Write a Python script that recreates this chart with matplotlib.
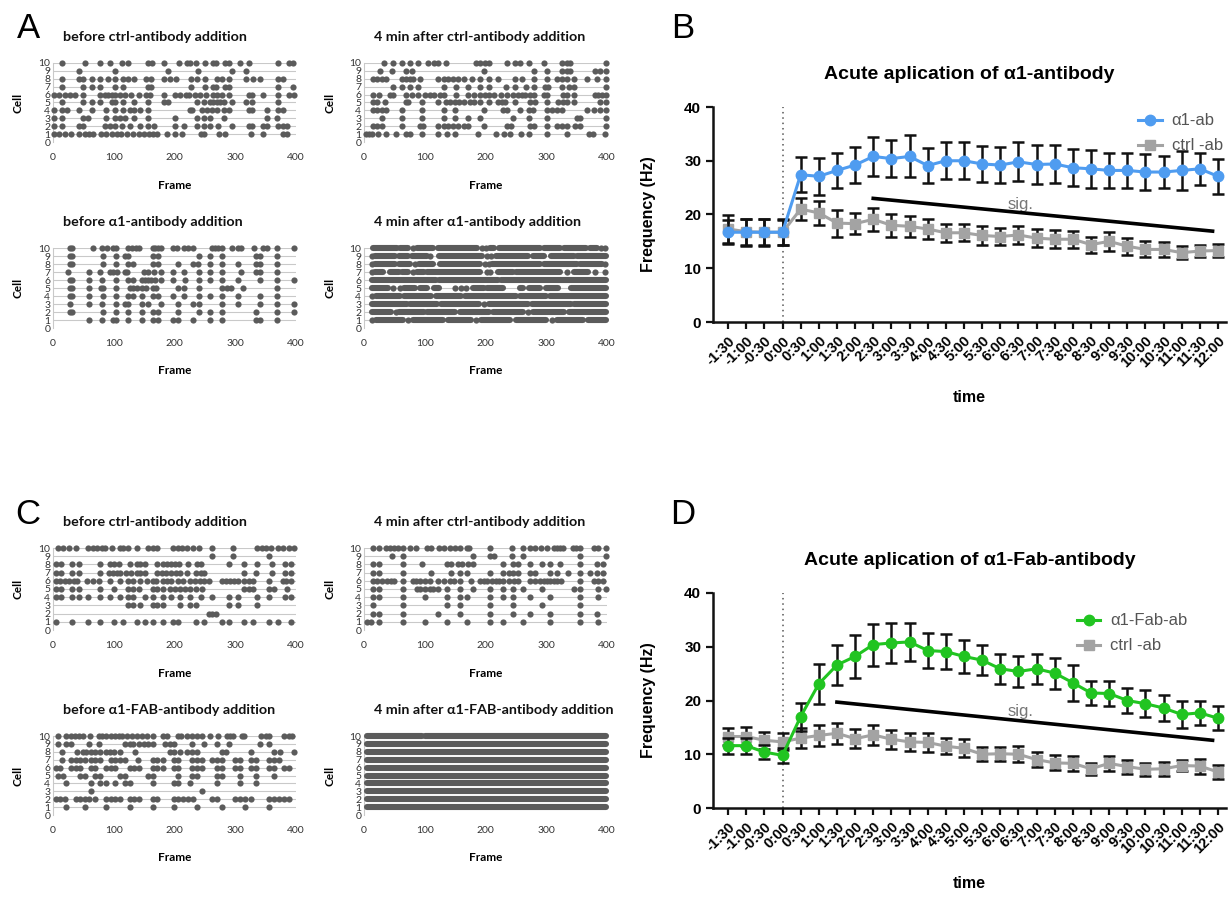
import matplotlib
matplotlib.use("Agg")
import matplotlib.pyplot as plt
from matplotlib.lines import Line2D

# ---------------- raster data: events (frame) per cell 1..10, tuples are bursts ----------------
a_before_ctrl = [
    [2, 10, 20, 30, 42, 53, 59, 66, 79, 88, 97, 105, 112, 121, 132, 142, 150, 158, 165, 171, 188, 201, 213, 244, 248, 273, 283, 326, 346, 379, 385],
    [2, 15, 42, 50, 86, 94, 102, 113, 127, 143, 157, 166, 201, 215, 237, 248, 259, 272, 294, 322, 327, 345, 352, 371, 378, 386],
    [2, 15, 50, 58, 88, 102, 110, 119, 133, 157, 201, 237, 248, 259, 281, 352, 368],
    [2, 15, 23, 42, 64, 88, 102, 116, 127, 133, 143, 157, 225, 229, 245, 253, 261, 270, 281, 290, 322, 327, 352, 371, 379],
    [15, 50, 64, 77, 97, 102, 116, 133, 157, 182, 190, 237, 248, 259, 264, 270, 275, 281, 294, 318, 327, 371],
    [2, 10, 20, 28, 36, 49, 77, 86, 91, 97, 102, 110, 119, 128, 141, 153, 159, 182, 201, 209, 219, 224, 234, 242, 252, 263, 270, 279, 290, 322, 327, 345, 371, 389, 396],
    [15, 50, 64, 77, 102, 116, 157, 161, 227, 250, 264, 268, 283, 289, 371, 395],
    [15, 42, 50, 64, 77, 91, 102, 116, 124, 133, 153, 161, 183, 192, 203, 227, 237, 250, 270, 278, 289, 318, 329, 341, 371, 379],
    [42, 102, 190, 239, 294, 318],
    [15, 52, 77, 94, 113, 124, 157, 163, 183, 208, 220, 226, 236, 250, 264, 268, 283, 289, 307, 323, 371, 389, 395],
]
a_after_ctrl = [
    [3, 8, 13, 23, 36, 53, 69, 76, 96, 122, 136, 149, 188, 218, 231, 241, 258, 271, 301, 334, 370, 377, 397],
    [15, 22, 29, 62, 92, 97, 122, 131, 139, 147, 155, 165, 172, 198, 235, 242, 273, 280, 301, 318, 326, 334, 348, 356, 398],
    [29, 62, 95, 132, 150, 172, 191, 246, 272, 302, 350, 356, 398],
    [15, 22, 29, 37, 62, 95, 132, 150, 198, 228, 235, 257, 272, 279, 302, 309, 317, 326, 367, 378, 388, 398],
    [15, 22, 35, 69, 73, 95, 122, 135, 142, 150, 157, 165, 175, 181, 191, 206, 221, 227, 232, 249, 273, 282, 302, 320, 327, 334, 345, 389, 398],
    [15, 25, 43, 48, 69, 79, 89, 100, 109, 115, 125, 132, 152, 172, 181, 191, 199, 206, 214, 225, 235, 246, 254, 260, 265, 273, 280, 297, 301, 327, 334, 345, 380, 386, 391, 398],
    [48, 62, 76, 89, 132, 152, 172, 191, 206, 234, 249, 267, 280, 298, 303, 326, 337, 345, 398],
    [15, 22, 29, 37, 62, 69, 76, 81, 92, 122, 131, 139, 147, 155, 165, 177, 191, 206, 221, 249, 260, 280, 302, 318, 326, 334, 345, 367, 383, 398],
    [26, 46, 69, 79, 198, 280, 302, 326, 334, 339, 380, 389, 398],
    [33, 48, 62, 76, 89, 106, 115, 122, 135, 184, 191, 199, 206, 235, 249, 257, 271, 297, 326, 334, 339, 398],
]
a_before_alpha = [
    [60, 80, 99, 104, 124, 146, 165, 173, 198, 206, 231, 259, 279, 334, 341, 368],
    [28, 32, 82, 104, 124, 146, 165, 173, 206, 241, 259, 279, 334, 368, 397],
    [28, 60, 80, 104, 119, 124, 146, 157, 177, 206, 231, 241, 279, 305, 341, 368, 397],
    [28, 32, 60, 82, 104, 124, 131, 146, 165, 173, 198, 215, 241, 259, 279, 305, 341, 368],
    [28, 32, 60, 79, 83, 104, 127, 132, 139, 146, 153, 164, 170, 206, 215, 241, 278, 286, 293, 313, 368],
    [28, 32, 60, 80, 104, 124, 131, 146, 151, 157, 162, 168, 177, 198, 217, 241, 259, 279, 305, 341, 368, 397],
    [25, 60, 77, 94, 99, 106, 119, 122, 149, 157, 166, 177, 198, 215, 241, 259, 279, 309, 334, 341, 368],
    [28, 32, 82, 104, 124, 131, 165, 173, 206, 231, 239, 259, 279, 305, 334, 341, 368],
    [28, 32, 82, 104, 119, 124, 165, 173, 241, 259, 279, 334, 341, 368],
    [28, 32, 66, 80, 89, 99, 104, 124, 130, 137, 142, 164, 168, 173, 177, 197, 204, 215, 223, 231, 261, 267, 272, 278, 294, 305, 310, 331, 346, 353, 368, 397],
]
a_after_alpha = [
    [13, (20, 64), 72, (80, 130), (138, 176), 184, (192, 240), (250, 300), 310, (318, 360), (368, 398)],
    [(13, 45), 52, (58, 98), (104, 150), (158, 205), (212, 262), 270, (278, 330), (338, 398)],
    [(13, 70), (76, 120), (126, 190), 198, (205, 270), (276, 340), (346, 398)],
    [13, (20, 60), (66, 110), (118, 160), (166, 250), (256, 300), (306, 398)],
    [(13, 40), 48, 59, (66, 84), (92, 103), (116, 124), 150, 159, 168, (179, 197), (202, 228), (256, 262), (271, 290), (300, 320), (340, 398)],
    [(13, 119), (124, 221), (226, 398)],
    [13, (18, 32), (43, 57), (62, 73), 80, (87, 98), (103, 191), 202, 208, (221, 246), (251, 323), 334, (345, 369), 380, 397],
    [13, (18, 51), (57, 76), 84, (90, 114), (125, 191), 199, 206, (210, 290), (297, 350), (356, 391), 397],
    [13, (18, 51), (57, 73), (79, 103), 109, (124, 194), 202, 209, (218, 270), (278, 296), (308, 345), (350, 398)],
    [(15, 54), (59, 73), 80, (88, 114), (121, 186), 194, 201, (208, 214), (223, 290), (297, 323), (330, 366), (372, 384), 390, 397],
]
c_before_ctrl = [
    [5, 31, 58, 77, 100, 116, 138, 151, 165, 181, 198, 205, 236, 249, 278, 289, 314, 330, 356, 371, 391],
    [256, 262, 268],
    [123, 131, 143, 165, 172, 181, 209, 226, 236, 289, 305, 335],
    [5, 13, 31, 43, 58, 77, 94, 110, 123, 131, 151, 165, 181, 194, 209, 226, 243, 261, 289, 305, 335, 356, 382, 391],
    [5, 13, 31, 43, 77, 100, 123, 131, 142, 165, 172, 181, 193, 201, 209, 217, 226, 236, 245, 314, 322, 330, 356, 363, 385],
    [5, 12, 20, 27, 34, 40, 56, 66, 75, 94, 110, 123, 131, 143, 154, 164, 170, 181, 187, 195, 205, 214, 225, 234, 242, 249, 256, 278, 285, 291, 298, 305, 314, 323, 330, 356, 378, 384, 391],
    [5, 13, 31, 43, 77, 93, 99, 105, 111, 120, 128, 138, 144, 151, 171, 179, 186, 194, 203, 209, 221, 236, 243, 249, 314, 334, 360, 382, 391],
    [5, 13, 31, 43, 77, 94, 100, 109, 126, 138, 143, 151, 172, 181, 188, 194, 201, 208, 223, 237, 243, 289, 314, 335, 360, 382, 391],
    [261, 297, 356],
    [9, 17, 27, 38, 58, 66, 73, 80, 86, 97, 110, 116, 123, 138, 157, 165, 172, 198, 205, 212, 220, 230, 241, 261, 297, 335, 344, 351, 359, 371, 379, 389, 397],
]
c_after_ctrl = [
    [5, 12, 25, 64, 100, 136, 170, 208, 229, 262, 306, 355, 386],
    [15, 25, 64, 122, 158, 208, 246, 273, 306, 355, 383],
    [15, 64, 136, 158, 208, 246, 293, 355],
    [15, 25, 64, 100, 136, 158, 170, 208, 229, 246, 273, 306, 355, 386],
    [15, 25, 64, 87, 93, 100, 108, 114, 122, 136, 158, 179, 208, 229, 246, 262, 293, 346, 355, 386, 398],
    [14, 22, 29, 38, 44, 49, 64, 80, 86, 93, 100, 109, 122, 132, 141, 148, 158, 176, 191, 198, 203, 210, 218, 223, 228, 239, 247, 254, 273, 282, 289, 296, 301, 306, 312, 317, 324, 355, 379, 386, 394],
    [15, 25, 64, 110, 144, 158, 170, 208, 229, 239, 246, 254, 273, 282, 306, 317, 336, 355, 372, 383, 394],
    [15, 25, 64, 95, 136, 144, 154, 161, 172, 179, 229, 246, 254, 273, 293, 306, 322, 355, 383, 394],
    [46, 64, 179, 208, 214, 243, 262, 355, 398],
    [15, 25, 36, 43, 49, 56, 64, 76, 86, 104, 110, 124, 131, 142, 150, 158, 170, 173, 208, 243, 262, 273, 282, 291, 301, 312, 317, 322, 328, 344, 349, 355, 379, 386, 398],
]
c_before_fab = [
    [22, 52, 88, 126, 164, 199, 237, 278, 316, 356],
    [5, 12, 20, 38, 45, 52, 60, 69, 88, 95, 102, 110, 126, 133, 141, 164, 172, 199, 206, 214, 222, 230, 262, 270, 300, 308, 316, 326, 356, 364, 372, 380, 388],
    [62, 245],
    [22, 62, 77, 88, 102, 118, 126, 164, 199, 206, 226, 270, 308, 334],
    [9, 16, 45, 52, 69, 77, 110, 118, 157, 164, 206, 228, 237, 270, 278, 308, 334, 364],
    [5, 12, 30, 38, 45, 62, 69, 88, 95, 102, 126, 133, 141, 164, 172, 181, 199, 206, 228, 237, 245, 270, 278, 300, 308, 326, 334, 356, 364, 380, 388],
    [14, 30, 38, 45, 52, 62, 69, 77, 95, 102, 110, 118, 140, 164, 172, 181, 199, 206, 228, 237, 245, 262, 270, 278, 300, 308, 326, 334, 356, 364, 372],
    [14, 39, 49, 55, 62, 69, 77, 88, 94, 100, 110, 135, 193, 199, 209, 220, 228, 237, 278, 285, 326, 364, 373, 396],
    [9, 22, 29, 60, 75, 119, 126, 132, 141, 149, 157, 165, 184, 193, 199, 228, 248, 270, 290, 341, 355],
    [9, 22, 29, 36, 43, 50, 61, 75, 80, 87, 95, 102, 108, 113, 121, 130, 138, 146, 154, 164, 181, 187, 205, 210, 220, 228, 237, 245, 259, 271, 286, 291, 297, 311, 315, 342, 351, 356, 380, 388, 393],
]
c_after_fab = [
    [(5, 398)], [(5, 398)], [(5, 398)], [(5, 398)], [(5, 398)],
    [(5, 398)], [(5, 398)], [(5, 398)], [(5, 398)], [(5, 95), (100, 398)],
]

# ---------------- frequency data ----------------
time_labels = ['-1:30', '-1:00', '-0:30', '0:00', '0:30', '1:00', '1:30', '2:00', '2:30', '3:00',
               '3:30', '4:00', '4:30', '5:00', '5:30', '6:00', '6:30', '7:00', '7:30', '8:00',
               '8:30', '9:00', '9:30', '10:00', '10:30', '11:00', '11:30', '12:00']

b_alpha_mean = [16.7, 16.7, 16.7, 16.7, 27.4, 27.1, 28.2, 29.2, 30.8, 30.4, 30.8, 29.1, 30.0, 30.0,
                29.4, 29.2, 29.8, 29.3, 29.4, 28.7, 28.5, 28.2, 28.2, 27.9, 27.9, 28.2, 28.5, 27.1]
b_alpha_err = [2.2, 2.5, 2.5, 2.4, 3.3, 3.4, 3.3, 3.3, 3.6, 3.4, 3.9, 3.3, 3.4, 3.4,
               3.4, 3.4, 3.6, 3.6, 3.5, 3.4, 3.5, 3.3, 3.3, 3.4, 2.9, 3.6, 3.0, 3.3]
b_ctrl_mean = [17.3, 16.8, 16.7, 16.7, 21.0, 20.3, 18.4, 18.3, 19.1, 18.0, 17.8, 17.3, 16.6, 16.6,
               16.1, 15.9, 16.2, 15.6, 15.4, 15.4, 14.4, 15.0, 14.1, 13.5, 13.5, 12.9, 13.2, 13.3]
b_ctrl_err = [2.6, 2.4, 2.4, 2.3, 2.0, 2.2, 2.5, 1.9, 2.1, 2.1, 2.0, 1.9, 1.7, 1.6,
              1.7, 1.6, 1.6, 1.7, 1.7, 1.6, 1.5, 1.8, 1.6, 1.5, 1.4, 1.2, 1.2, 1.3]

d_fab_mean = [11.6, 11.6, 10.4, 9.8, 17.0, 23.1, 26.6, 28.2, 30.4, 30.7, 30.9, 29.3, 29.1, 28.2,
              27.5, 25.9, 25.4, 25.9, 25.1, 23.3, 21.4, 21.3, 20.0, 19.4, 18.6, 17.4, 17.7, 16.7]
d_fab_err = [1.5, 1.5, 1.3, 1.4, 2.6, 3.7, 3.7, 4.0, 3.9, 3.7, 3.6, 3.3, 3.3, 3.1,
             2.8, 2.8, 2.8, 2.8, 2.9, 3.3, 2.3, 2.4, 2.4, 2.5, 2.5, 2.5, 2.2, 2.2]
d_ctrl_mean = [13.3, 13.3, 12.6, 12.3, 13.0, 13.5, 13.9, 12.9, 13.6, 12.8, 12.3, 12.2, 11.5, 11.1,
               10.0, 10.1, 10.0, 9.0, 8.4, 8.3, 7.3, 8.3, 7.7, 7.2, 7.3, 7.9, 7.8, 6.7]
d_ctrl_err = [1.6, 1.8, 1.6, 1.6, 1.9, 1.9, 2.0, 1.8, 1.8, 1.8, 1.7, 1.7, 1.5, 1.7,
              1.3, 1.3, 1.5, 1.4, 1.4, 1.4, 1.1, 1.4, 1.3, 1.2, 1.3, 1.1, 1.4, 1.3]

# significance bars (x as time index, y in Hz)
b_sig_x = [8, 26.7]
b_sig_y = [23.0, 16.9]
d_sig_x = [6, 26.7]
d_sig_y = [19.7, 12.6]

W, H = 1230, 913
DOT = '#5b5b5b'
RASTER_FONT = ['Lato', 'DejaVu Sans']
PRISM_FONT = ['Liberation Sans', 'DejaVu Sans']

fig = plt.figure(figsize=(W / 100, H / 100), dpi=100)


def px_axes(left, top, right, bottom):
    return fig.add_axes([left / W, 1 - bottom / H, (right - left) / W, (bottom - top) / H])


def raster(left, top, right, bottom, label_y, rows, title):
    ax = px_axes(left, top, right, bottom)
    ax.hlines(range(1, 11), 0, 400, color='#c9c9c9', lw=0.8, zorder=1)
    for cell, events in enumerate(rows, start=1):
        singles = [e for e in events if not isinstance(e, tuple)]
        ax.scatter(singles, [cell] * len(singles), s=20, color=DOT, linewidths=0,
                   zorder=3, clip_on=False)
        for e in events:
            if isinstance(e, tuple):
                ax.plot(e, [cell, cell], color=DOT, lw=4.4, solid_capstyle='round',
                        zorder=3, clip_on=False)
    ax.set_xlim(0, 400)
    ax.set_ylim(0, 10)
    ax.set_xticks(range(0, 401, 100))
    ax.set_yticks(range(0, 11))
    for s in ['top', 'right', 'bottom']:
        ax.spines[s].set_visible(False)
    ax.spines['left'].set_color('#c9c9c9')
    ax.tick_params(length=0, labelsize=7.5, colors='#333333')
    ax.tick_params(axis='x', pad=8)
    ax.tick_params(axis='y', pad=2)
    for t in ax.get_xticklabels() + ax.get_yticklabels():
        t.set_family(RASTER_FONT)
    ax.set_xlabel('Frame', fontsize=8.5, fontweight='bold', family=RASTER_FONT)
    ax.set_ylabel('Cell', fontsize=8.5, fontweight='bold', family=RASTER_FONT)
    ax.xaxis.set_label_coords(0.5, -(label_y - bottom) / (bottom - top))
    ax.yaxis.set_label_coords(-29 / (right - left), 0.5)
    ax.text(0.04, 1 + 26 / (bottom - top), title, transform=ax.transAxes, ha='left',
            va='center', fontsize=10.3, fontweight='bold', family=RASTER_FONT, color='#111111')
    return ax


# panel A / C rasters: axes rect in pixels, "Frame" label y
raster_specs = [
    (53, 63, 296, 142, 180, a_before_ctrl, 'before ctrl-antibody addition'),
    (364, 63, 607, 142, 180, a_after_ctrl, '4 min after ctrl-antibody addition'),
    (53, 248, 296, 328, 365, a_before_alpha, 'before \u03b11-antibody addition'),
    (364, 248, 607, 328, 365, a_after_alpha, '4 min after \u03b11-antibody addition'),
    (53, 548, 296, 630, 668, c_before_ctrl, 'before ctrl-antibody addition'),
    (364, 548, 607, 630, 668, c_after_ctrl, '4 min after ctrl-antibody addition'),
    (53, 736, 296, 815, 852, c_before_fab, 'before \u03b11-FAB-antibody addition'),
    (364, 736, 607, 815, 852, c_after_fab, '4 min after \u03b11-FAB-antibody addition'),
]
for l, t, r, b, ylab, rows, title in raster_specs:
    raster(l, t, r, b, ylab, rows, title)


def prism(top, bottom, mean_a, err_a, color_a, label_a, mean_c, err_c, title,
          sig_x, sig_y, sig_txt_xy, leg_anchor):
    ax = px_axes(713, top, 1226, bottom)
    x = list(range(len(time_labels)))
    ax.axvline(3, color='#555555', lw=1.1, ls=(0, (1, 2.5)), zorder=1)
    ax.errorbar(x, mean_c, yerr=err_c, color='#a3a3a3', marker='s', ms=7, lw=2.2,
                ecolor='#111111', elinewidth=1.8, capsize=4, capthick=1.8, zorder=3)
    ax.errorbar(x, mean_a, yerr=err_a, color=color_a, marker='o', ms=7.5, lw=2.2,
                ecolor='#111111', elinewidth=1.8, capsize=4, capthick=1.8, zorder=4)
    ax.plot(sig_x, sig_y, color='black', lw=2.6, zorder=5)
    ax.text(sig_txt_xy[0], sig_txt_xy[1], 'sig.', fontsize=12, color='#777777',
            ha='center', va='center', family=PRISM_FONT)
    ax.set_xlim(-0.83, 27.44)
    ax.set_ylim(0, 40)
    ax.set_yticks([0, 10, 20, 30, 40])
    ax.set_xticks(x)
    ax.set_xticklabels(time_labels, rotation=45, ha='right', rotation_mode='anchor')
    for s in ['top', 'right']:
        ax.spines[s].set_visible(False)
    for s in ['left', 'bottom']:
        ax.spines[s].set_linewidth(1.8)
        ax.spines[s].set_color('#111111')
    ax.tick_params(width=1.6, length=5, color='#111111')
    for t in ax.get_xticklabels():
        t.set_fontsize(10.5)
        t.set_fontweight('bold')
        t.set_family(PRISM_FONT)
    for t in ax.get_yticklabels():
        t.set_fontsize(11)
        t.set_fontweight('bold')
        t.set_family(PRISM_FONT)
    ax.set_title(title, fontsize=14, fontweight='bold', pad=20, family=PRISM_FONT)
    ax.set_ylabel('Frequency (Hz)', fontsize=11.5, fontweight='bold', family=PRISM_FONT)
    ax.yaxis.set_label_coords(-57 / 513, 0.5)
    ax.set_xlabel('time', fontsize=11.5, fontweight='bold', family=PRISM_FONT)
    ax.xaxis.set_label_coords(0.5, -68 / 215)
    handles = [
        Line2D([], [], color=color_a, marker='o', ms=7.5, lw=2.2),
        Line2D([], [], color='#a3a3a3', marker='s', ms=7, lw=2.2),
    ]
    leg = ax.legend(handles, [label_a, 'ctrl -ab'], loc='upper left', bbox_to_anchor=leg_anchor,
                    frameon=False, handlelength=1.4, handletextpad=0.6, labelspacing=0.6,
                    prop={'family': PRISM_FONT, 'size': 12})
    for t in leg.get_texts():
        t.set_color('#555555')
    return ax


prism(107, 322, b_alpha_mean, b_alpha_err, '#4f9cf0', '\u03b11-ab', b_ctrl_mean, b_ctrl_err,
      'Acute aplication of \u03b11-antibody', b_sig_x, b_sig_y, (16.1, 21.9), (0.80, 1.04))
prism(593, 808, d_fab_mean, d_fab_err, '#21c421', '\u03b11-Fab-ab', d_ctrl_mean, d_ctrl_err,
      'Acute aplication of \u03b11-Fab-antibody', d_sig_x, d_sig_y, (16.1, 18.0), (0.68, 0.975))

for letter, xp, yp in [('A', 28, 28), ('B', 683, 28), ('C', 28, 515), ('D', 683, 515)]:
    fig.text(xp / W, 1 - yp / H, letter, fontsize=25, ha='center', va='center',
             family=['Liberation Sans', 'DejaVu Sans'])

fig.savefig('out.png', dpi=100)
